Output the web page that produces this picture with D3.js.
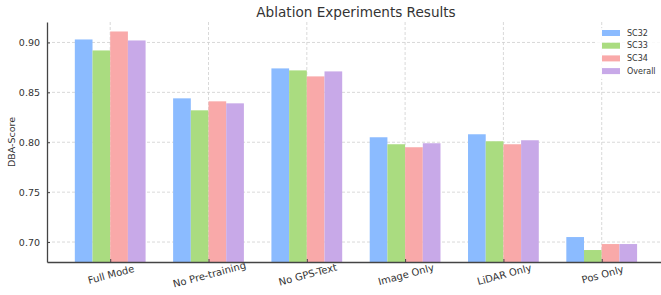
<!DOCTYPE html>
<html>
<head>
<meta charset="utf-8">
<script src="https://cdn.jsdelivr.net/npm/d3@7"></script>
<style>
  body { margin: 0; background: #fff; }
  text { font-family: "DejaVu Sans", sans-serif; fill: #333; }
</style>
</head>
<body>
<div id="chart"></div>
<script>
// data
const categories = ["Full Mode", "No Pre-training", "No GPS-Text", "Image Only", "LiDAR Only", "Pos Only"];
const seriesNames = ["SC32", "SC33", "SC34", "Overall"];
const sc32 = [0.903, 0.844, 0.874, 0.805, 0.808, 0.705];
const sc33 = [0.892, 0.832, 0.872, 0.798, 0.801, 0.692];
const sc34 = [0.911, 0.841, 0.866, 0.795, 0.798, 0.698];
const overall = [0.902, 0.839, 0.871, 0.799, 0.802, 0.698];
const yTicks = [0.70, 0.75, 0.80, 0.85, 0.90];

const colors = ["#8bbbff", "#aadc80", "#f9a9a9", "#c8a9e8"];
const allSeries = [sc32, sc33, sc34, overall];

const W = 661, H = 295;
const margin = {top: 22, left: 47, bottom: 33};
const plotH = H - margin.top - margin.bottom;

const svg = d3.select("#chart").append("svg")
    .attr("width", W)
    .attr("height", H);

// x in "category units", like matplotlib's bar positions
const x = d3.scaleLinear()
    .domain([-0.643, 5.643])
    .range([margin.left, margin.left + 6.286 * 98.3]);
const barW = 0.18;

const y = d3.scaleLinear()
    .domain([0.68, 0.9205])
    .range([H - margin.bottom, margin.top]);

svg.append("clipPath").attr("id", "plotclip")
    .append("rect")
    .attr("x", margin.left).attr("y", margin.top)
    .attr("width", W - margin.left).attr("height", plotH);

const plot = svg.append("g").attr("clip-path", "url(#plotclip)");

// grid
plot.append("g").selectAll("line.h")
    .data(yTicks)
    .join("line")
    .attr("x1", margin.left).attr("x2", W)
    .attr("y1", d => y(d)).attr("y2", d => y(d))
    .attr("stroke", "#cfcfcf")
    .attr("stroke-width", 0.8)
    .attr("stroke-dasharray", "3,2");

plot.append("g").selectAll("line.v")
    .data(categories)
    .join("line")
    .attr("x1", (d, i) => x(i)).attr("x2", (d, i) => x(i))
    .attr("y1", margin.top).attr("y2", H - margin.bottom)
    .attr("stroke", "#cfcfcf")
    .attr("stroke-width", 0.8)
    .attr("stroke-dasharray", "3,2");

// bars
allSeries.forEach((vals, s) => {
    plot.append("g").selectAll("rect")
        .data(vals)
        .join("rect")
        .attr("x", (d, i) => x(i + (s - 2) * barW))
        .attr("y", d => y(d))
        .attr("width", x(barW) - x(0))
        .attr("height", d => y(0.68) - y(d))
        .attr("fill", colors[s]);
});

// axes
const yAxis = svg.append("g")
    .attr("transform", `translate(${margin.left},0)`)
    .call(d3.axisLeft(y).tickValues(yTicks).tickFormat(d3.format(".2f")).tickSizeInner(-3).tickSizeOuter(0).tickPadding(7));
yAxis.select(".domain").attr("stroke", "#444").attr("stroke-width", 1.3);
yAxis.selectAll(".tick line").attr("stroke", "#444");
yAxis.selectAll("text").style("font-size", "9.5px").attr("fill", "#333");

const xAxis = svg.append("g")
    .attr("transform", `translate(0,${H - margin.bottom})`)
    .call(d3.axisBottom(x).tickValues(d3.range(categories.length)).tickSizeInner(-3).tickSizeOuter(0).tickFormat(""));
xAxis.select(".domain").attr("stroke", "#444").attr("stroke-width", 1.3);
xAxis.selectAll(".tick line").attr("stroke", "#444");

svg.append("g").selectAll("text")
    .data(categories)
    .join("text")
    .attr("transform", (d, i) => `translate(${x(i) + 1},${H - margin.bottom + 13}) rotate(-15)`)
    .attr("text-anchor", "middle")
    .attr("dominant-baseline", "middle")
    .style("font-size", "10px")
    .text(d => d);

// labels
svg.append("text")
    .attr("x", 356).attr("y", 17)
    .attr("text-anchor", "middle")
    .style("font-size", "13.6px")
    .text("Ablation Experiments Results");

svg.append("text")
    .attr("transform", `translate(15,${margin.top + plotH / 2}) rotate(-90)`)
    .attr("text-anchor", "middle")
    .style("font-size", "9.5px")
    .text("DBA-Score");

// legend
const legend = svg.append("g");
legend.append("rect")
    .attr("x", 597).attr("y", 28).attr("width", 64).attr("height", 51)
    .attr("fill", "#fff").attr("opacity", 0.85);
seriesNames.forEach((name, i) => {
    const ly = 33 + i * 12.7;
    legend.append("rect")
        .attr("x", 602).attr("y", ly - 3)
        .attr("width", 18).attr("height", 6)
        .attr("fill", colors[i]);
    legend.append("text")
        .attr("x", 627).attr("y", ly)
        .attr("dominant-baseline", "middle")
        .style("font-size", "8px")
        .text(name);
});
</script>
</body>
</html>
